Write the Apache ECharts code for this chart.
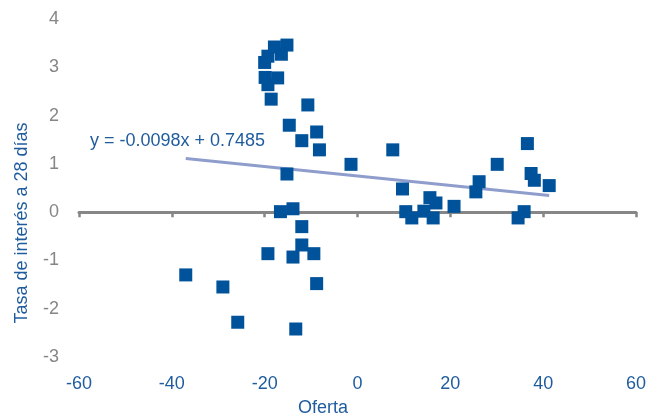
<!DOCTYPE html>
<html>
<head>
<meta charset="utf-8">
<script src="https://cdn.jsdelivr.net/npm/echarts@6/dist/echarts.min.js"></script>
<style>
  html, body { margin: 0; padding: 0; background: #ffffff; }
  #chart { width: 657px; height: 419px; }
</style>
</head>
<body>
<div id="chart"></div>
<script>
// Oferta (x) vs. tasa de interés a 28 días (y)
const ofertaValues = [
  -15.2, -17.9, -16.4, -19.3, -20.0, -19.9, -17.2, -19.3, -18.6, -10.7,
  -14.7, -8.8, -12.0, -8.2, -1.4, -15.2, -16.6, -13.9, -12.0, -12.0,
  -19.3, -13.9, -9.4, -37.0, -29.0, -8.8, -25.8, -13.3, 7.6, 9.7,
  15.6, 16.9, 10.4, 11.7, 14.3, 16.3, 20.8, 25.5, 26.2, 30.1,
  36.6, 37.4, 38.1, 41.3, 35.9, 34.6
];
const tasaValues = [
  3.46, 3.42, 3.27, 3.23, 3.10, 2.79, 2.78, 2.64, 2.34, 2.22,
  1.80, 1.66, 1.48, 1.29, 0.99, 0.79, 0.01, 0.07, -0.30, -0.68,
  -0.86, -0.93, -0.86, -1.30, -1.55, -1.48, -2.28, -2.42, 1.29, 0.48,
  0.30, 0.19, 0.01, -0.12, 0.02, -0.12, 0.12, 0.42, 0.63, 0.99,
  1.42, 0.80, 0.66, 0.55, 0.01, -0.12
];
// Linear trend: y = slope * x + intercept
const trendSlope = -0.0098;
const trendIntercept = 0.7485;
const xTicks = [-60, -40, -20, 0, 20, 40, 60];
const yTicks = [-3, -2, -1, 0, 1, 2, 3, 4];

const points = ofertaValues.map((x, i) => [x, tasaValues[i]]);
const xMin = Math.min(...ofertaValues);
const xMax = Math.max(...ofertaValues);
const trendPoints = [xMin, xMax].map(x => [x, trendSlope * x + trendIntercept]);
const equationText = 'y = ' + trendSlope.toFixed(4) + 'x + ' + trendIntercept.toFixed(4);

const blue = '#00529B';
const textBlue = '#1F5C9E';
const grey = '#868686';
const font = 'Liberation Sans, Arial, sans-serif';

const xRange = { min: xTicks[0], max: xTicks[xTicks.length - 1], interval: 20 };

const chart = echarts.init(document.getElementById('chart'), null, { renderer: 'canvas' });
chart.setOption({
  animation: false,
  backgroundColor: '#ffffff',
  grid: { left: 79, right: 21, top: 19, bottom: 62, containLabel: false, outerBoundsMode: 'none' },
  xAxis: [
    {
      // tick labels along the bottom edge
      type: 'value',
      position: 'bottom',
      ...xRange,
      axisLine: { show: false, onZero: false },
      axisTick: { show: false },
      axisLabel: { show: true, margin: 18, color: textBlue, fontSize: 18, fontFamily: font },
      splitLine: { show: false }
    },
    {
      // horizontal line crossing at y = 0 with small downward ticks
      type: 'value',
      position: 'bottom',
      ...xRange,
      axisLine: { show: true, onZero: true, lineStyle: { color: grey, width: 3 } },
      axisTick: { show: true, inside: false, length: 5, lineStyle: { color: grey, width: 2.5 } },
      axisLabel: { show: false },
      splitLine: { show: false }
    }
  ],
  yAxis: {
    type: 'value',
    min: yTicks[0],
    max: yTicks[yTicks.length - 1],
    interval: 1,
    axisLine: { show: false },
    axisTick: { show: false },
    axisLabel: { margin: 20, color: grey, fontSize: 18, fontFamily: font },
    splitLine: { show: false }
  },
  graphic: [
    {
      type: 'text',
      x: 22, y: 223,
      rotation: Math.PI / 2,
      style: {
        text: 'Tasa de interés a 28 días',
        fill: textBlue, fontSize: 18, fontFamily: font,
        align: 'center', verticalAlign: 'middle'
      }
    },
    {
      type: 'text',
      x: 323, y: 408,
      style: {
        text: 'Oferta',
        fill: textBlue, fontSize: 18, fontFamily: font,
        align: 'center', verticalAlign: 'middle'
      }
    },
    {
      type: 'text',
      x: 90, y: 141,
      style: {
        text: equationText,
        fill: textBlue, fontSize: 18, fontFamily: font,
        align: 'left', verticalAlign: 'middle'
      }
    }
  ],
  series: [
    {
      type: 'line',
      xAxisIndex: 0,
      data: trendPoints,
      symbol: 'none',
      lineStyle: { color: '#8E9DCC', width: 3 },
      z: 1
    },
    {
      type: 'scatter',
      xAxisIndex: 0,
      data: points,
      symbol: 'rect',
      symbolSize: 13,
      itemStyle: { color: blue, opacity: 1 },
      z: 2
    }
  ]
});
</script>
</body>
</html>
